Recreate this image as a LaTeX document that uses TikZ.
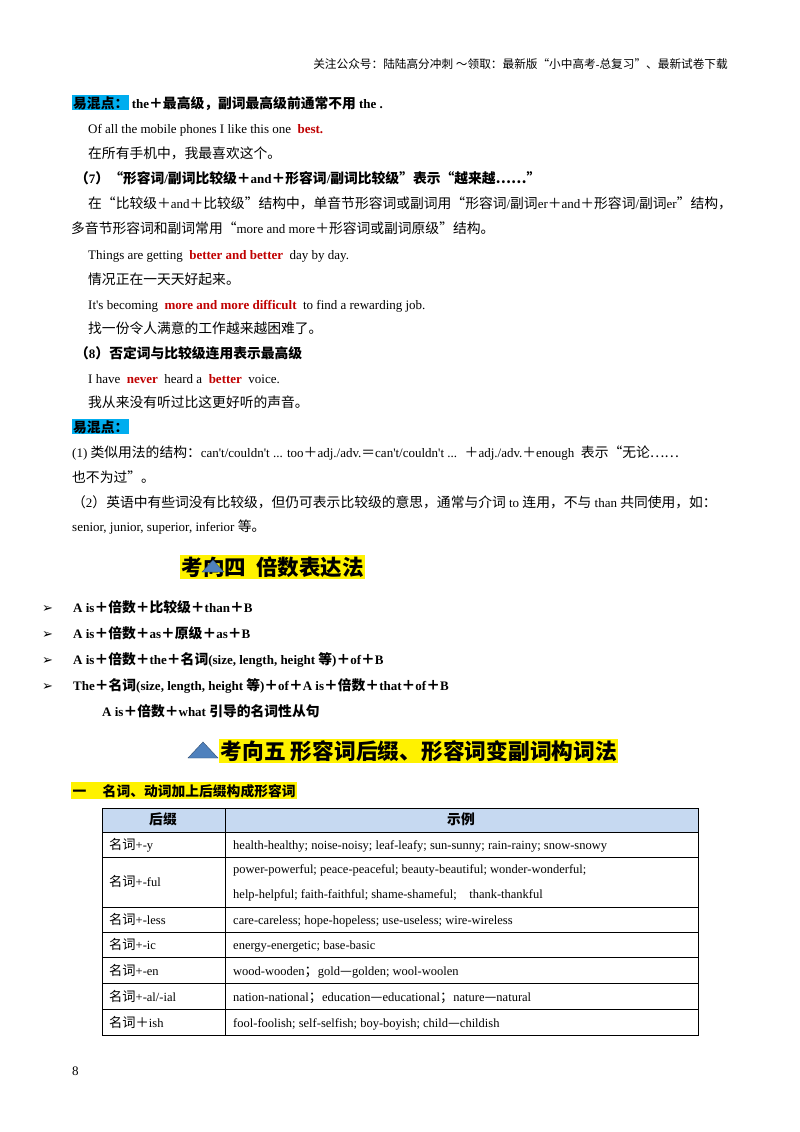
\documentclass[tikz,border=0pt]{standalone}
\usepackage{fontspec}
\setmainfont{Liberation Serif}
\newfontfamily\cjk{Noto Sans CJK SC}[Scale=1.06]
\newfontfamily\djv{DejaVu Sans}
\XeTeXinterchartokenstate=1
\newXeTeXintercharclass\cjkclass
\newcount\cc
\cc="4E00 \loop\XeTeXcharclass\cc=\cjkclass \advance\cc by 1 \ifnum\cc<"A000 \repeat
\cc="3000 \loop\XeTeXcharclass\cc=\cjkclass \advance\cc by 1 \ifnum\cc<"3040 \repeat
\cc="FF00 \loop\XeTeXcharclass\cc=\cjkclass \advance\cc by 1 \ifnum\cc<"FF60 \repeat
\XeTeXcharclass"201C=\cjkclass \XeTeXcharclass"201D=\cjkclass
\XeTeXcharclass"2026=\cjkclass \XeTeXcharclass"2014=\cjkclass
\XeTeXinterchartoks 0 \cjkclass = {\begingroup\cjk}
\XeTeXinterchartoks 4095 \cjkclass = {\begingroup\cjk}
\XeTeXinterchartoks \cjkclass 0 = {\endgroup}
\XeTeXinterchartoks \cjkclass 4095 = {\endgroup}
\definecolor{rd}{HTML}{C00000}
\definecolor{hb}{HTML}{C6D9F1}
\definecolor{tri}{HTML}{4F81BD}
\newcommand\ap{\textquotesingle}
\begin{document}
\begin{tikzpicture}[x=1pt,y=-1pt,
 t/.style={anchor=base west,inner sep=0,font=\fontsize{13}{15}\selectfont},
 hl/.style={fill=cyan,inner sep=1pt},
 yl/.style={fill=yellow,inner sep=1.5pt},
 bl/.style={t,font=\fontsize{13}{15}\selectfont\bfseries},
 tc/.style={anchor=base west,inner sep=0,font=\fontsize{12.5}{15}\selectfont}]
\useasboundingbox[fill=white] (0,0) rectangle (800,1132);
\newcommand\R[1]{\textcolor{rd}{\textbf{#1}}}
\node[anchor=base east,inner sep=0,font=\fontsize{11}{13}\selectfont] (hdr) at (728,69) {关注公众号：陆陆高分冲刺 ～领取：最新版“小中高考-总复习”、最新试卷下载};
\node[bl,hl,anchor=base west] (y1) at (72,108) {易混点：};
\node[bl] (l1) at (y1.base east) {\,the＋最高级，副词最高级前通常不用 the .};
\node[t] (l2) at (88,133) {Of all the mobile phones I like this one \ \R{best.}};
\node[t] (l3) at (88,158) {在所有手机中，我最喜欢这个。};
\node[bl] (l4) at (75,183) {（7）“形容词/副词比较级＋and＋形容词/副词比较级”表示“越来越……”};
\node[t] (l5) at (88,208) {在“比较级＋and＋比较级”结构中，单音节形容词或副词用“形容词/副词er＋and＋形容词/副词er”结构，};
\node[t] (l6) at (71,233) {多音节形容词和副词常用“more and more＋形容词或副词原级”结构。};
\node[t] (l7) at (88,259) {Things are getting \ \R{better and better} \ day by day.};
\node[t] (l8) at (88,284) {情况正在一天天好起来。};
\node[t] (l9) at (88,309) {It\ap s becoming \ \R{more and more difficult} \ to find a rewarding job.};
\node[t] (l10) at (88,333) {找一份令人满意的工作越来越困难了。};
\node[bl] (l11) at (75,358) {（8）否定词与比较级连用表示最高级};
\node[t] (l12) at (88,383) {I have \ \R{never} \ heard a \ \R{better} \ voice.};
\node[t] (l13) at (88,407) {我从来没有听过比这更好听的声音。};
\node[bl,hl] (y2) at (72,432) {易混点：};
\node[t] (l14) at (72,457) {(1) 类似用法的结构：can\ap t/couldn\ap t ... too＋adj./adv.＝can\ap t/couldn\ap t ... \ ＋adj./adv.＋enough \ 表示“无论……};
\node[t] (l15) at (72,482) {也不为过”。};
\node[t] (l16) at (72,507) {（2）英语中有些词没有比较级，但仍可表示比较级的意思，通常与介词 to 连用，不与 than 共同使用，如：};
\node[t] (l17) at (72,531) {senior, junior, superior, inferior 等。};
\node[yl,anchor=base west,font=\fontsize{20.3}{24}\selectfont\bfseries] (h4) at (180,575) {考向四\ \ 倍数表达法};
\fill[tri,draw=tri!60!black] (202,572) -- (213,560) -- (224,572) -- cycle;
\foreach \yy/\tx in {612/{A is＋倍数＋比较级＋than＋B},638/{A is＋倍数＋as＋原级＋as＋B},664/{A is＋倍数＋the＋名词(size, length, height 等)＋of＋B},690/{The＋名词(size, length, height 等)＋of＋A is＋倍数＋that＋of＋B}}{
 \node[anchor=base west,inner sep=0,font=\djv\bfseries\fontsize{13}{15}\selectfont] at (42,\yy) {➢};
 \node[bl] at (73,\yy) {\tx};}
\node[bl] (l18) at (102,716) {A is＋倍数＋what 引导的名词性从句};
\fill[tri,draw=tri!60!black] (188,758) -- (203,742) -- (218,758) -- cycle;
\node[yl,anchor=base west,font=\fontsize{20.5}{26}\selectfont\bfseries] (h5) at (219,759) {考向五\ 形容词后缀、形容词变副词构词法};
\node[yl,anchor=base west,font=\fontsize{13}{15}\selectfont\bfseries] (s1) at (71,796) {一\quad\ 名词、动词加上后缀构成形容词};
\fill[hb] (102,808) rectangle (698,832);
\draw[line width=0.6pt] (102,808) rectangle (698,1035);
\foreach \yy in {832,857,907,932,957,983,1009}{\draw[line width=0.6pt] (102,\yy) -- (698,\yy);}
\draw[line width=0.6pt] (225,808) -- (225,1035);
\node[bl,anchor=base] (th1) at (163,824) {后缀};
\node[bl,anchor=base] (th2) at (461,824) {示例};
\foreach \yy/\a/\b in {849/{名词+-y}/{health-healthy; noise-noisy; leaf-leafy; sun-sunny; rain-rainy; snow-snowy},886/{名词+-ful}/{},924/{名词+-less}/{care-careless; hope-hopeless; use-useless; wire-wireless},949/{名词+-ic}/{energy-energetic; base-basic},975/{名词+-en}/{wood-wooden；gold—golden; wool-woolen},1001/{名词+-al/-ial}/{nation-national；education—educational；nature—natural},1027/{名词＋ish}/{fool-foolish; self-selfish; boy-boyish; child—childish}}{
 \node[tc] at (109,\yy) {\a};
 \node[tc] at (233,\yy) {\b};}
\node[tc] at (233,873) {power-powerful; peace-peaceful; beauty-beautiful; wonder-wonderful;};
\node[tc] at (233,898) {help-helpful; faith-faithful; shame-shameful;\ \ \ \ thank-thankful};
\node[t] (pg) at (72,1075) {8};
\end{tikzpicture}
\end{document}
